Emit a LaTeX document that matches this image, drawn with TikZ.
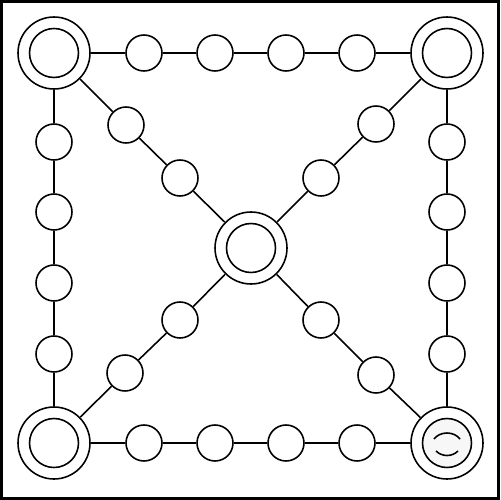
\documentclass[tikz,border=0pt]{standalone}
\begin{document}
\begin{tikzpicture}[x=0.02cm,y=-0.02cm,
  spot/.style={circle,draw,line width=0.9pt,minimum size=0.72cm,inner sep=0pt,fill=white},
  hub/.style={circle,draw,line width=0.9pt,minimum size=1.44cm,inner sep=0pt,fill=white},
  hubin/.style={circle,draw,line width=0.9pt,minimum size=0.98cm,inner sep=0pt},
  link/.style={line width=0.9pt}]
\useasboundingbox (0,0) rectangle (500,500);
\draw[line width=1.6pt] (1.5,1.5) rectangle (498.5,498.5);
% hubs
\node[hub] (TL) at (54,53) {};
\node[hub] (TR) at (447,53) {};
\node[hub] (BL) at (54,443) {};
\node[hub] (BR) at (447,443) {};
\node[hub] (C) at (251,248) {};
\node[hubin] (TLi) at (TL) {};
\node[hubin] (TRi) at (TR) {};
\node[hubin] (BLi) at (BL) {};
\node[hubin,fill=black!3] (BRi) at (BR) {};
\node[hubin] (Ci) at (C) {};
% top row
\node[spot] (t1) at (144,53) {};
\node[spot] (t2) at (215,53) {};
\node[spot] (t3) at (286,53) {};
\node[spot] (t4) at (357,53) {};
% bottom row
\node[spot] (b1) at (144,443) {};
\node[spot] (b2) at (215,443) {};
\node[spot] (b3) at (286,443) {};
\node[spot] (b4) at (357,443) {};
% left column
\node[spot] (l1) at (54,142) {};
\node[spot] (l2) at (54,212) {};
\node[spot] (l3) at (54,283) {};
\node[spot] (l4) at (54,354) {};
% right column
\node[spot] (r1) at (447,142) {};
\node[spot] (r2) at (447,212) {};
\node[spot] (r3) at (447,283) {};
\node[spot] (r4) at (447,354) {};
% diagonals
\node[spot] (d1) at (126,125) {};
\node[spot] (d2) at (180,178) {};
\node[spot] (d3) at (321,178) {};
\node[spot] (d4) at (376,124) {};
\node[spot] (d5) at (180,320) {};
\node[spot] (d6) at (125,373) {};
\node[spot] (d7) at (321,320) {};
\node[spot] (d8) at (376,375) {};
% connectors
\draw[link] (TL) -- (t1) -- (t2) -- (t3) -- (t4) -- (TR);
\draw[link] (BL) -- (b1) -- (b2) -- (b3) -- (b4) -- (BR);
\draw[link] (TL) -- (l1) -- (l2) -- (l3) -- (l4) -- (BL);
\draw[link] (TR) -- (r1) -- (r2) -- (r3) -- (r4) -- (BR);
\draw[link] (TL) -- (d1) -- (d2) -- (C);
\draw[link] (TR) -- (d4) -- (d3) -- (C);
\draw[link] (BL) -- (d6) -- (d5) -- (C);
\draw[link] (BR) -- (d8) -- (d7) -- (C);
% marks in bottom-right hub
\draw[line width=0.9pt] (434,439) .. controls (440,431) and (454,431) .. (460,439);
\draw[line width=0.9pt] (436,451) .. controls (442,457) and (452,457) .. (458,451);
\end{tikzpicture}
\end{document}
